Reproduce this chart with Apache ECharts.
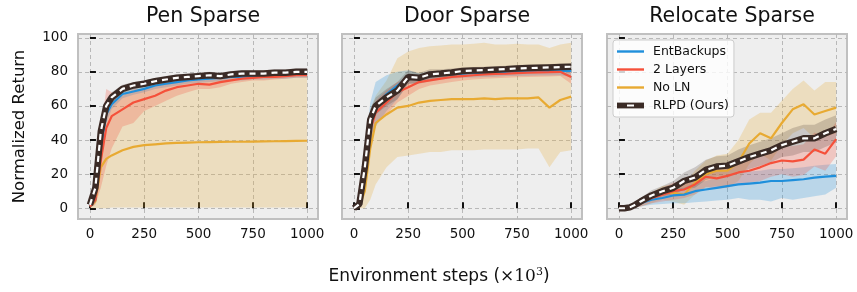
<!DOCTYPE html>
<html>
<head>
<meta charset="utf-8">
<script src="https://cdn.jsdelivr.net/npm/echarts@6/dist/echarts.min.js"></script>
<style>
  html, body { margin: 0; padding: 0; background: #fff; }
  #main { width: 857px; height: 292px; }
</style>
</head>
<body>
<div id="main"></div>
<script>
// steps (x10^3)
var steps = [0, 25, 50, 75, 100, 150, 200, 250, 300, 350, 400, 450, 500, 550, 600, 650, 700, 750, 800, 850, 900, 950, 1000];
var xTicks = [0, 250, 500, 750, 1000];
var yTicks = [0, 20, 40, 60, 80, 100];
var titles = ['Pen Sparse', 'Door Sparse', 'Relocate Sparse'];
var names = ['EntBackups', '2 Layers', 'No LN', 'RLPD (Ours)'];

// Pen Sparse
var penEnt = [1, 5, 35, 55, 61, 67, 68.5, 70, 72, 73, 74, 75, 75.5, 76, 76.5, 77, 77, 77.5, 77.5, 78, 78, 78.5, 78.5];
var penEntLo = [0.5, 3, 28, 50, 58, 64.5, 66.5, 68, 70, 71, 72, 73, 73.5, 74, 74.5, 75, 75, 75.5, 75.5, 76, 76, 76.5, 76.5];
var penEntHi = [1.5, 8, 43, 60, 64, 69, 70.5, 72, 74, 75, 76, 77, 77.5, 78, 78.5, 79, 79, 79.5, 79.5, 80, 80, 80.5, 80.5];
var pen2L = [1, 5, 28, 47, 54, 58, 62, 64, 66, 69, 71, 72, 73, 72.5, 74, 75, 76, 76.5, 77, 77, 77.5, 78, 78];
var pen2LLo = [0, 2, 12, 25, 35, 48, 50, 57, 60, 63, 66, 68, 70, 70, 71, 73, 74, 75, 75, 75.5, 76, 76.5, 76.5];
var pen2LHi = [2, 9, 45, 70, 68, 66, 70, 70, 72, 74, 75, 75, 76, 75.5, 76.5, 77, 77.5, 78, 78.5, 78.5, 79, 79.5, 79.5];
var penNoLN = [1, 4, 24, 29, 31, 34, 36, 37, 37.5, 38, 38.3, 38.5, 38.7, 38.8, 38.9, 39, 39, 39.1, 39.2, 39.3, 39.4, 39.5, 39.6];
var penNoLNLo = [0, 0, 0, 0, 0.5, 0.5, 0.5, 0.5, 0.5, 0.5, 0.5, 0.5, 0.5, 0.5, 0.5, 0.5, 0.5, 0.5, 0.5, 0.5, 0.5, 0.5, 0.5];
var penNoLNHi = [2, 10, 45, 58, 63, 68, 70, 71, 72, 73, 74, 75, 75.5, 76, 76.5, 77, 77, 77.5, 77.5, 78, 78, 78.5, 78.5];
var penRlpd = [2, 12, 45, 60, 65, 70, 72, 73, 74.5, 75.5, 76.5, 77, 77.5, 78, 77.5, 78.5, 79, 79, 79, 79.5, 79.5, 80, 80];
var penRlpdLo = [1, 8, 39, 56, 62, 67.5, 70, 71, 72.5, 73.5, 74.5, 75, 75.5, 76, 75.5, 76.5, 77, 77, 77, 77.5, 77.5, 78, 78];
var penRlpdHi = [3, 16, 51, 64, 68, 72.5, 74, 75, 76.5, 77.5, 78.5, 79, 79.5, 80, 79.5, 80.5, 81, 81, 81, 81.5, 81.5, 82, 82];

// Door Sparse
var doorEnt = [0, 2, 22, 50, 60, 67, 72, 77, 76, 77.5, 78, 78.5, 79, 79.2, 79.5, 79.7, 80, 80, 80.2, 80.3, 80.4, 80.5, 80.5];
var doorEntLo = [0, 0.5, 12, 38, 48, 57, 64, 73, 73, 74.5, 75.5, 76, 76.5, 76.7, 77, 77.2, 77.5, 77.5, 77.7, 77.8, 77.9, 78, 77];
var doorEntHi = [0.5, 5, 32, 62, 74, 78, 80, 81, 79, 80.5, 80.5, 81, 81.5, 81.7, 82, 82.2, 82.5, 82.5, 82.7, 82.8, 82.9, 83, 83];
var door2L = [0, 2, 20, 46, 56, 62, 68, 71, 74, 75, 76, 77, 77.5, 78, 78.5, 78.8, 79, 79.3, 79.5, 79.7, 79.8, 80, 77];
var door2LLo = [0, 0.5, 12, 38, 49, 55, 62, 66, 70, 72, 73, 74, 75, 75.5, 76, 76.3, 76.5, 76.8, 77, 77.2, 77.3, 77.5, 73];
var door2LHi = [0.5, 4, 28, 54, 63, 69, 74, 76, 78, 78, 79, 80, 80, 80.5, 81, 81.3, 81.5, 81.8, 82, 82.2, 82.3, 82.5, 81];
var doorNoLN = [0, 1, 10, 35, 50, 55, 59, 60, 62, 63, 63.5, 64, 64, 64, 64.5, 64, 64.5, 64.5, 64.5, 65, 59, 63.5, 65.5];
var doorNoLNLo = [0, 0, 0, 5, 14, 24, 30, 31, 32, 33, 33, 34, 34, 34, 34.5, 34.5, 34.5, 34.5, 35, 35, 24, 33, 34];
var doorNoLNHi = [0, 3, 30, 58, 66, 75, 88, 92, 94, 95, 95.5, 96, 96, 96.5, 97, 96, 96, 96.5, 96, 96, 94, 96, 97];
var doorRlpd = [0, 2.5, 24, 52, 60, 65, 69, 77, 76.5, 78.5, 79, 79.6, 80.5, 80.8, 81, 81.3, 81.6, 82, 82.2, 82.4, 82.6, 82.8, 83];
var doorRlpdLo = [0, 1, 18, 46, 55, 60, 64, 73, 73.5, 75.5, 76.5, 77, 78.5, 78.8, 79, 79.3, 79.6, 80, 80.2, 80.4, 80.6, 80.8, 81];
var doorRlpdHi = [0.5, 4.5, 30, 58, 65, 70, 74, 81, 79.5, 81.5, 81.5, 82, 82.5, 82.8, 83, 83.3, 83.6, 84, 84.2, 84.4, 84.6, 84.8, 85];

// Relocate Sparse
var relEnt = [0, 0, 0.5, 1.5, 3, 5, 6, 7.5, 8, 10, 11, 12, 13, 14, 14.5, 15, 16, 16, 16.5, 17, 18, 18.5, 19];
var relEntLo = [0, 0, 0, 0.5, 1, 2, 2.5, 3, 3, 3.5, 4, 4.5, 5, 6, 5, 5, 4, 6, 5, 6, 7, 8, 12];
var relEntHi = [0, 0, 1, 2.5, 5, 8, 9, 11.5, 12, 15, 16, 18, 19, 21, 21.5, 22, 23, 23, 23.5, 24, 25, 25.5, 26];
var rel2L = [0, 0, 0.5, 1.5, 3, 6, 8, 10, 11, 14, 18.5, 17.5, 19, 21, 22, 24, 26.5, 28, 27.5, 28.5, 34.5, 32, 40.5];
var rel2LLo = [0, 0, 0, 0.5, 1, 3, 4, 5, 6, 8, 12.5, 11.5, 12, 14, 15, 16, 18.5, 20, 18.5, 19.5, 24.5, 22, 30.5];
var rel2LHi = [0, 0, 1, 2.5, 5, 9, 12, 15, 16, 20, 24.5, 23.5, 26, 28, 29, 32, 34.5, 36, 36.5, 37.5, 44.5, 42, 50.5];
var relNoLN = [0, 0, 0.5, 2, 3, 6, 9, 9, 8, 15, 20, 22, 22, 27, 38, 44, 41, 50, 58, 61, 55, 57, 59];
var relNoLNLo = [0, 0, 0, 1, 1, 3, 5, 4, 2, 8, 12, 13, 12, 16, 26, 32, 28, 37, 44, 47, 41, 42, 44];
var relNoLNHi = [0, 0, 1, 3, 5, 9, 13, 14, 14, 22, 28, 31, 32, 40, 52, 56, 56, 63, 70, 75, 69, 74, 74];
var relRlpd = [0, 0, 0.5, 2, 4, 7.5, 10, 12, 16, 18, 22.5, 24.5, 25, 27.5, 30, 32, 34, 37, 39, 41, 41, 44, 46.5];
var relRlpdLo = [0, 0, 0, 1, 2, 4.5, 7, 8, 11, 12, 16.5, 18.5, 19, 20.5, 23, 25, 27, 30, 31, 33, 33, 36, 38.5];
var relRlpdHi = [0, 0, 1, 3, 6, 10.5, 13, 16, 21, 24, 28.5, 30.5, 31, 34.5, 37, 39, 41, 44, 47, 49, 49, 52, 54.5];

var panels = [
  [[penEnt, penEntLo, penEntHi], [pen2L, pen2LLo, pen2LHi], [penNoLN, penNoLNLo, penNoLNHi], [penRlpd, penRlpdLo, penRlpdHi]],
  [[doorEnt, doorEntLo, doorEntHi], [door2L, door2LLo, door2LHi], [doorNoLN, doorNoLNLo, doorNoLNHi], [doorRlpd, doorRlpdLo, doorRlpdHi]],
  [[relEnt, relEntLo, relEntHi], [rel2L, rel2LLo, rel2LHi], [relNoLN, relNoLNLo, relNoLNHi], [relRlpd, relRlpdLo, relRlpdHi]]
];

var colors = ['#1f8fdb', '#f5503a', '#e8aa32', '#3b2b26'];
var bandColors = ['rgba(31,143,219,0.25)', 'rgba(245,80,58,0.25)', 'rgba(232,170,50,0.25)', 'rgba(59,43,38,0.2)'];
var font = 'DejaVu Sans';
var lefts = [78, 342, 607];

function pairs(arr) {
  return steps.map(function (x, i) { return [x, arr[i]]; });
}
function svgIcon(svg) {
  return 'image://data:image/svg+xml;charset=utf-8,' + encodeURIComponent(svg);
}
var lineIcon = function (c) {
  return svgIcon("<svg xmlns='http://www.w3.org/2000/svg' width='27' height='7'><line x1='0' y1='3.5' x2='27' y2='3.5' stroke='" + c + "' stroke-width='2.4'/></svg>");
};
var rlpdIcon = svgIcon("<svg xmlns='http://www.w3.org/2000/svg' width='27' height='7'><rect x='0' y='0.6' width='27' height='5.8' fill='#3b2b26'/><rect x='10' y='2.5' width='7' height='2' fill='#fff'/></svg>");

// shaded band between lo and hi, drawn as one polygon through the axis scale
function bandSeries(g, lo, hi, color) {
  return {
    type: 'custom', xAxisIndex: g, yAxisIndex: g, silent: true, z: 1,
    data: steps.map(function (x, i) { return [x, lo[i], hi[i]]; }),
    encode: { x: 0, y: [1, 2] },
    renderItem: function (params, api) {
      if (params.dataIndex !== 0) return;
      var pts = [];
      for (var i = 0; i < steps.length; i++) pts.push(api.coord([steps[i], hi[i]]));
      for (var j = steps.length - 1; j >= 0; j--) pts.push(api.coord([steps[j], lo[j]]));
      return { type: 'polygon', shape: { points: pts }, style: { fill: color } };
    }
  };
}

var grids = [], xAxes = [], yAxes = [], series = [], titleList = [];

for (var g = 0; g < 3; g++) {
  grids.push({
    left: lefts[g], top: 34, width: 240, height: 185,
    show: true, backgroundColor: '#eeeeee', borderColor: '#c0c0c0', borderWidth: 2
  });
  xAxes.push({
    gridIndex: g, type: 'value', min: -55, max: 1050,
    axisLine: { show: false },
    axisTick: { inside: true, length: 6, customValues: xTicks, lineStyle: { color: '#111', width: 2 } },
    axisLabel: { customValues: xTicks, fontSize: 13.5, color: '#111', margin: 8, fontFamily: font,
      formatter: function (v) { return String(v); } },
    splitLine: { show: true, lineStyle: { type: [4, 3], color: '#b8b8b8', width: 1 } }
  });
  yAxes.push({
    gridIndex: g, type: 'value', min: -6.3, max: 102.2,
    name: g === 0 ? 'Normalized Return' : '',
    nameLocation: 'middle', nameGap: 50,
    nameTextStyle: { fontSize: 16.5, color: '#111', fontFamily: font },
    axisLine: { show: false },
    axisTick: { inside: true, length: 6, customValues: yTicks, lineStyle: { color: '#111', width: 2 } },
    axisLabel: { show: g === 0, customValues: yTicks, fontSize: 13.5, color: '#111', margin: 10, fontFamily: font },
    splitLine: { show: true, lineStyle: { type: [4, 3], color: '#b8b8b8', width: 1 } }
  });
  titleList.push({
    text: titles[g], left: lefts[g] + 120, top: 1, textAlign: 'center',
    textStyle: { fontSize: 20.5, fontWeight: 'normal', color: '#111', fontFamily: font }
  });

  var order = [2, 0, 1, 3];
  order.forEach(function (k) {
    var d = panels[g][k];
    series.push(bandSeries(g, d[1], d[2], bandColors[k]));
  });
  order.forEach(function (k) {
    var d = panels[g][k];
    if (k === 3) {
      series.push({
        name: names[k], type: 'line', xAxisIndex: g, yAxisIndex: g, data: pairs(d[0]),
        showSymbol: false, color: colors[k], lineStyle: { width: 6.5, color: colors[k] }, z: 4
      });
      series.push({
        type: 'line', xAxisIndex: g, yAxisIndex: g, data: pairs(d[0]), silent: true,
        showSymbol: false, lineStyle: { width: 2.2, color: '#ffffff', type: [6, 5] }, z: 5
      });
    } else {
      series.push({
        name: names[k], type: 'line', xAxisIndex: g, yAxisIndex: g, data: pairs(d[0]),
        showSymbol: false, color: colors[k], lineStyle: { width: 2.2, color: colors[k] }, z: 3
      });
    }
  });
}

titleList.push({
  text: 'Environment steps ({a|×10}{b|3})', left: 434, top: 262, textAlign: 'center',
  textStyle: {
    fontSize: 17, fontWeight: 'normal', color: '#111', fontFamily: font,
    rich: {
      a: { fontSize: 17, color: '#111', fontFamily: 'DejaVu Serif' },
      b: { fontSize: 11, color: '#111', fontFamily: 'DejaVu Serif', verticalAlign: 'top', padding: [0, 0, 9, 0] }
    }
  }
});

var myChart = echarts.init(document.getElementById('main'), null, { renderer: 'canvas' });
var option = {
  animation: false,
  title: titleList,
  grid: grids,
  xAxis: xAxes,
  yAxis: yAxes,
  legend: {
    orient: 'vertical', left: 613, top: 40,
    padding: [5, 5, 5, 4], itemGap: 5, itemWidth: 27, itemHeight: 7,
    backgroundColor: 'rgba(255,255,255,0.8)', borderColor: '#cccccc', borderWidth: 1, borderRadius: 3,
    textStyle: { fontSize: 12.5, color: '#111', fontFamily: font, padding: [0, 0, 0, 4] },
    data: [
      { name: names[0], icon: lineIcon(colors[0]) },
      { name: names[1], icon: lineIcon(colors[1]) },
      { name: names[2], icon: lineIcon(colors[2]) },
      { name: names[3], icon: rlpdIcon }
    ],
    selectedMode: false
  },
  series: series
};
myChart.setOption(option);
</script>
</body>
</html>
